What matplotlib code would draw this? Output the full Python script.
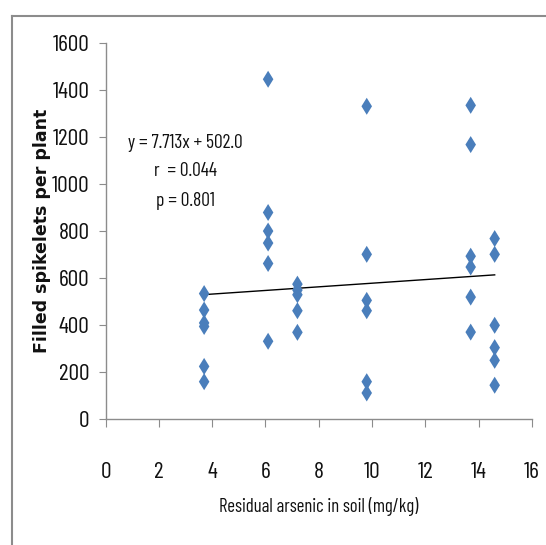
import matplotlib
matplotlib.use("Agg")
import matplotlib.pyplot as plt
from matplotlib import font_manager
from matplotlib.lines import Line2D
import numpy as np

# ---- data ----
arsenic = [3.7]*6 + [6.1]*6 + [7.2]*5 + [9.8]*6 + [13.7]*6 + [14.6]*6
spikelets = [535, 465, 410, 395, 225, 160,
             1447, 880, 801, 750, 663, 332,
             575, 550, 530, 462, 370,
             1332, 702, 506, 462, 160, 112,
             1336, 1169, 694, 648, 520, 371,
             769, 702, 400, 305, 251, 145]
slope = 7.713
intercept = 502.0
x_ticks = [0, 2, 4, 6, 8, 10, 12, 14, 16]
y_ticks = [0, 200, 400, 600, 800, 1000, 1200, 1400, 1600]
eq_lines = ["y = 7.713x + 502.0", "r  = 0.044", "p = 0.801"]

avail = {f.name for f in font_manager.fontManager.ttflist}
narrow = [f for f in ["Barlow Condensed", "Asap Condensed", "Archivo Narrow", "DejaVu Sans"] if f in avail]

fig = plt.figure(figsize=(5.46, 5.45), dpi=100)
ax = fig.add_axes([105.5/546, 1-419.3/545, (532-105.5)/546, (419.3-43.3)/545])

diamond = [(0, 1), (0.62, 0), (0, -1), (-0.62, 0), (0, 1)]
ax.scatter(arsenic, spikelets, marker=diamond, s=150, color="#4A7EBB",
           edgecolors="none", zorder=3)

xl = np.array([min(arsenic), max(arsenic)])
ax.plot(xl, slope*xl + intercept, color="black", lw=1.0, zorder=2)

ax.set_xlim(0, 16)
ax.set_ylim(0, 1600)
ax.set_xticks(x_ticks)
ax.set_yticks(y_ticks)
ax.set_xticklabels([str(t) for t in x_ticks], family=narrow, fontsize=17, fontweight="normal")
ax.set_yticklabels([str(t) for t in y_ticks], family=narrow, fontsize=17, fontweight="normal")
for s in ["top", "right"]:
    ax.spines[s].set_visible(False)
for s in ["left", "bottom"]:
    ax.spines[s].set_color("#8C8C8C")
    ax.spines[s].set_linewidth(1.0)
ax.tick_params(axis="x", direction="out", length=6, color="#8C8C8C", pad=25, labelcolor="#111111")
ax.tick_params(axis="y", direction="out", length=5, color="#8C8C8C", pad=6.5, labelcolor="#111111")

ax.set_xlabel("Residual arsenic in soil (mg/kg)", family=narrow, fontsize=13.5, fontweight="normal",
              color="#111111")
ax.xaxis.set_label_coords(0.501, -(506-419.3)/376)
ax.xaxis.label.set_va("center")
ax.set_ylabel("Filled spikelets per plant", family="DejaVu Sans", fontweight="bold",
              fontsize=12.5, color="#111111")
ax.yaxis.set_label_coords(-0.149, 0.5)
ax.yaxis.label.set_va("center")

eq_y = [(419.3-143)/376, (419.3-171)/376, (419.3-201)/376]
for line, yy in zip(eq_lines, eq_y):
    ax.text((185-105.5)/426.5, yy, line, transform=ax.transAxes, family=narrow, fontsize=14,
            fontweight="normal", ha="center", va="center", color="#111111")

# outer border
fig.add_artist(Line2D([12/546, 1.0], [1-15.7/545, 1-15.7/545], transform=fig.transFigure,
                      color="#8C8C8C", lw=1.5))
fig.add_artist(Line2D([12/546, 12/546], [0, 1-15.7/545], transform=fig.transFigure,
                      color="#8C8C8C", lw=1.5))

fig.savefig("out.png", dpi=100)
